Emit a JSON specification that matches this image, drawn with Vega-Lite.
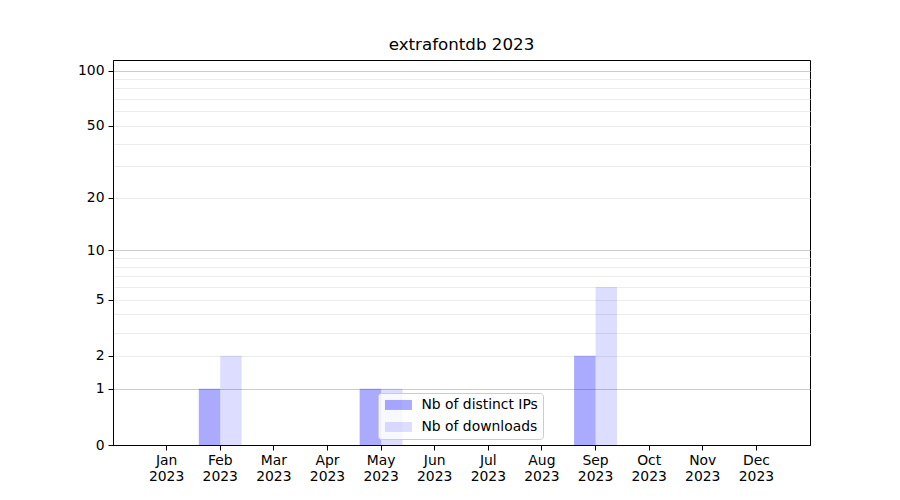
{
  "$schema": "https://vega.github.io/schema/vega-lite/v6.json",
  "width": 697,
  "height": 385,
  "autosize": {"type": "none"},
  "padding": {"left": 113, "top": 60, "right": 90, "bottom": 55},
  "background": "white",
  "title": {"text": "extrafontdb 2023", "fontSize": 16.7, "fontWeight": "normal", "font": "DejaVu Sans", "color": "black", "offset": 6},
  "data": {
    "values": [
      {"month": "Jan", "series": "Nb of distinct IPs", "value": 0},
      {"month": "Jan", "series": "Nb of downloads", "value": 0},
      {"month": "Feb", "series": "Nb of distinct IPs", "value": 1},
      {"month": "Feb", "series": "Nb of downloads", "value": 2},
      {"month": "Mar", "series": "Nb of distinct IPs", "value": 0},
      {"month": "Mar", "series": "Nb of downloads", "value": 0},
      {"month": "Apr", "series": "Nb of distinct IPs", "value": 0},
      {"month": "Apr", "series": "Nb of downloads", "value": 0},
      {"month": "May", "series": "Nb of distinct IPs", "value": 1},
      {"month": "May", "series": "Nb of downloads", "value": 1},
      {"month": "Jun", "series": "Nb of distinct IPs", "value": 0},
      {"month": "Jun", "series": "Nb of downloads", "value": 0},
      {"month": "Jul", "series": "Nb of distinct IPs", "value": 0},
      {"month": "Jul", "series": "Nb of downloads", "value": 0},
      {"month": "Aug", "series": "Nb of distinct IPs", "value": 0},
      {"month": "Aug", "series": "Nb of downloads", "value": 0},
      {"month": "Sep", "series": "Nb of distinct IPs", "value": 2},
      {"month": "Sep", "series": "Nb of downloads", "value": 6},
      {"month": "Oct", "series": "Nb of distinct IPs", "value": 0},
      {"month": "Oct", "series": "Nb of downloads", "value": 0},
      {"month": "Nov", "series": "Nb of distinct IPs", "value": 0},
      {"month": "Nov", "series": "Nb of downloads", "value": 0},
      {"month": "Dec", "series": "Nb of distinct IPs", "value": 0},
      {"month": "Dec", "series": "Nb of downloads", "value": 0}
    ]
  },
  "mark": {"type": "bar"},
  "encoding": {
    "x": {
      "field": "month", "type": "ordinal",
      "sort": ["Jan", "Feb", "Mar", "Apr", "May", "Jun", "Jul", "Aug", "Sep", "Oct", "Nov", "Dec"],
      "scale": {"paddingInner": 0.2, "paddingOuter": 0.6},
      "axis": {
        "title": null, "labelAngle": 0, "labelExpr": "[datum.value, '2023']",
        "tickSize": 5, "labelPadding": 3, "domainColor": "black", "tickColor": "black",
        "labelColor": "black", "labelFontSize": 13.9, "labelFont": "DejaVu Sans", "labelLineHeight": 16,
        "labelOverlap": false, "grid": false
      }
    },
    "xOffset": {
      "field": "series", "type": "nominal",
      "sort": ["Nb of distinct IPs", "Nb of downloads"],
      "scale": {"paddingInner": 0, "paddingOuter": 0}
    },
    "y": {
      "field": "value", "type": "quantitative",
      "scale": {"type": "symlog", "constant": 1, "domain": [0, 114], "nice": false},
      "axis": {
        "title": null,
        "values": [0, 1, 2, 3, 4, 5, 6, 7, 8, 9, 10, 20, 30, 40, 50, 60, 70, 80, 90, 100],
        "labelExpr": "indexof([0,1,2,5,10,20,50,100], datum.value) >= 0 ? datum.label : ''",
        "labelOverlap": false,
        "tickOpacity": {"condition": {"test": "indexof([0,1,2,5,10,20,50,100], datum.value) < 0", "value": 0}, "value": 1},
        "gridColor": {"condition": {"test": "datum.value == 1 || datum.value == 10 || datum.value == 100", "value": "#cccccc"}, "value": "#ececec"},
        "gridOpacity": {"condition": {"test": "datum.value == 0", "value": 0}, "value": 1},
        "grid": true,
        "tickSize": 5, "labelPadding": 4, "domainColor": "black", "tickColor": "black",
        "labelColor": "black", "labelFontSize": 13.9, "labelFont": "DejaVu Sans"
      }
    },
    "color": {
      "field": "series", "type": "nominal",
      "sort": ["Nb of distinct IPs", "Nb of downloads"],
      "scale": {"range": ["#0000ff55", "#0000ff22"]},
      "legend": {
        "title": null, "orient": "none", "legendX": 265, "legendY": 333,
        "symbolType": "M-2.7,-1H2.7V1H-2.7Z", "symbolSize": 100, "symbolStrokeWidth": 0,
        "symbolOffset": 8.5,
        "labelFontSize": 13.9, "labelFont": "DejaVu Sans", "labelColor": "black",
        "strokeColor": "#cccccc", "fillColor": "rgba(255,255,255,0.8)", "cornerRadius": 3,
        "padding": 5, "rowPadding": 7, "labelOffset": 16
      }
    }
  },
  "config": {"view": {"stroke": "black", "strokeWidth": 1}}
}
